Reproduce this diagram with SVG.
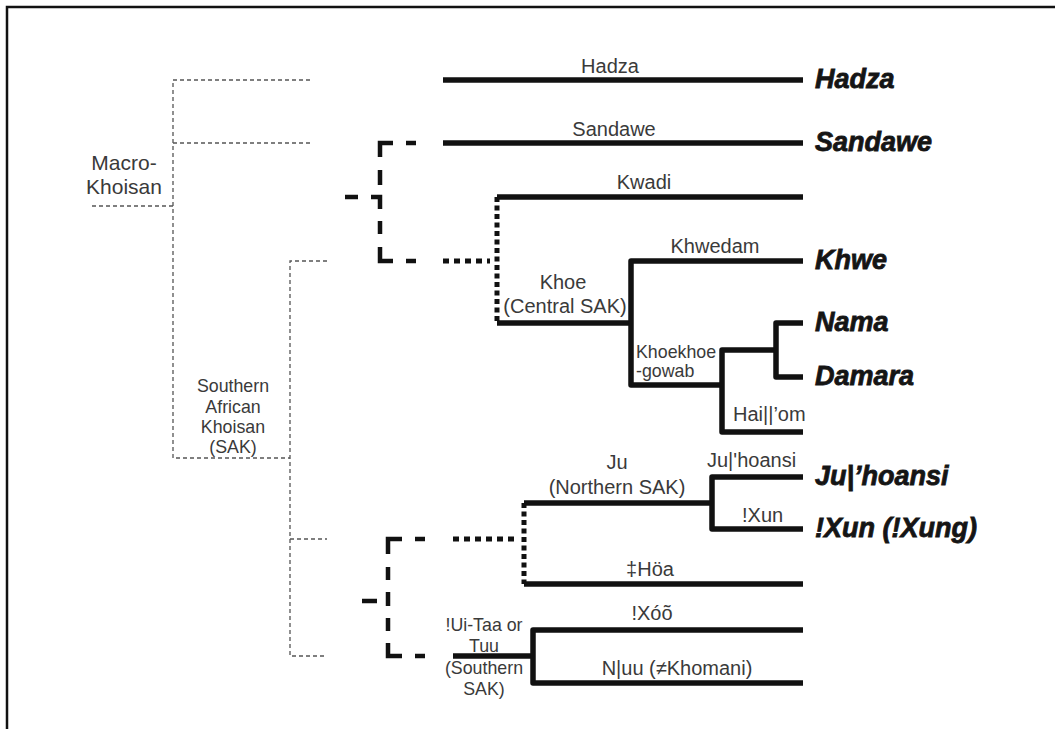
<svg xmlns="http://www.w3.org/2000/svg" width="1055" height="729" viewBox="0 0 1055 729">
<style>
.frame{stroke:#111;stroke-width:2.5;fill:none}
.thick{stroke:#111;stroke-width:5.5;fill:none;stroke-linejoin:round}
.dash{stroke:#111;stroke-width:4.5;fill:none}
.doth{stroke:#111;stroke-width:5;fill:none;stroke-dasharray:6 5}
.dotv{stroke:#111;stroke-width:5;fill:none;stroke-dasharray:5 3.5}
.thin{stroke:#555;stroke-width:1.3;fill:none;stroke-dasharray:4 3}
.lbl{font-family:"Liberation Sans",Arial,Helvetica,sans-serif;font-size:20px;fill:#3a3a3a;text-anchor:middle}
.st{text-anchor:start}
.sm{font-size:17.8px}
.big{font-size:21px}
.bi{font-family:"Liberation Sans",Arial,Helvetica,sans-serif;font-size:27px;font-weight:bold;font-style:italic;fill:#151515;stroke:#151515;stroke-width:0.8}
</style>
<rect width="1055" height="729" fill="#fff"/>
<path class="frame" d="M7 729V7H1055"/>
<g id="connectors">
  <path class="thin" d="M310 80H173V458H290"/>
  <path class="thin" d="M173 143H310"/>
  <path class="thin" d="M92 206H173"/>
  <path class="thin" d="M327 261H290V656H327"/>
  <path class="thin" d="M290 539H327"/>
  <path class="dash" d="M406 143H416M393 143H380V157M380 170V185M345 197H358M371 197H380V209M380 221V234M380 247V261H393M406 261H416"/>
  <path class="dash" d="M415 539H425M402 539H388V554M388 567V580M388 592V606M388 618V631M388 643V656H402M415 656H425M362 601H377"/>
  <path class="doth" d="M443 261H490"/>
  <path class="dotv" d="M497 197V323"/>
  <path class="doth" d="M453 539H518"/>
  <path class="dotv" d="M524 503V584"/>
  <path class="thick" d="M443 80H803"/>
  <path class="thick" d="M443 143H803"/>
  <path class="thick" d="M497 197H803"/>
  <path class="thick" d="M497 323H631"/>
  <path class="thick" d="M803 261H631V385H722"/>
  <path class="thick" d="M803 432H722V350H776"/>
  <path class="thick" d="M803 323H776V377H803"/>
  <path class="thick" d="M524 503H712"/>
  <path class="thick" d="M803 477H712V529H803"/>
  <path class="thick" d="M524 584H803"/>
  <path class="thick" d="M453 656H533"/>
  <path class="thick" d="M803 630H533V683H803"/>
</g>
<g id="macro-khoisan"><text class="lbl big" x="124" y="170">Macro-</text><text class="lbl big" x="124" y="194">Khoisan</text></g>
<g id="sak"><text class="lbl sm" x="233" y="392">Southern</text><text class="lbl sm" x="233" y="413">African</text><text class="lbl sm" x="233" y="433">Khoisan</text><text class="lbl sm" x="233" y="453">(SAK)</text></g>
<g id="hadza-branch"><text class="lbl" x="610" y="73">Hadza</text></g>
<g id="sandawe-branch"><text class="lbl" x="614" y="136">Sandawe</text></g>
<g id="kwadi-branch"><text class="lbl" x="644" y="189">Kwadi</text></g>
<g id="khoe"><text class="lbl" x="563" y="289">Khoe</text><text class="lbl" x="565" y="313">(Central SAK)</text></g>
<g id="khwedam-branch"><text class="lbl" x="715" y="253">Khwedam</text></g>
<g id="khoekhoegowab"><text class="lbl sm st" x="636" y="358">Khoekhoe</text><text class="lbl sm st" x="636" y="377">-gowab</text></g>
<g id="haiom-branch"><text class="lbl st" x="733" y="421">Hai||’om</text></g>
<g id="ju"><text class="lbl" x="617" y="469">Ju</text><text class="lbl" x="617" y="494">(Northern SAK)</text></g>
<g id="juhoansi-branch"><text class="lbl st" x="707" y="467">Ju|'hoansi</text></g>
<g id="xun-branch"><text class="lbl st" x="742" y="522">!Xun</text></g>
<g id="hoa-branch"><text class="lbl" x="650" y="576">‡Höa</text></g>
<g id="tuu"><text class="lbl sm" x="484" y="631">!Ui-Taa or</text><text class="lbl sm" x="484" y="652">Tuu</text><text class="lbl sm" x="484" y="674">(Southern</text><text class="lbl sm" x="484" y="695">SAK)</text></g>
<g id="xoo-branch"><text class="lbl" x="652" y="620">!Xóõ</text></g>
<g id="nuu-branch"><text class="lbl" x="677" y="675">N|uu (≠Khomani)</text></g>
<g id="hadza"><text class="bi" x="815" y="88">Hadza</text></g>
<g id="sandawe"><text class="bi" x="815" y="151">Sandawe</text></g>
<g id="khwe"><text class="bi" x="815" y="269">Khwe</text></g>
<g id="nama"><text class="bi" x="815" y="331">Nama</text></g>
<g id="damara"><text class="bi" x="815" y="385">Damara</text></g>
<g id="juhoansi"><text class="bi" x="815" y="485">Ju|’hoansi</text></g>
<g id="xun"><text class="bi" x="815" y="537">!Xun (!Xung)</text></g>
</svg>
